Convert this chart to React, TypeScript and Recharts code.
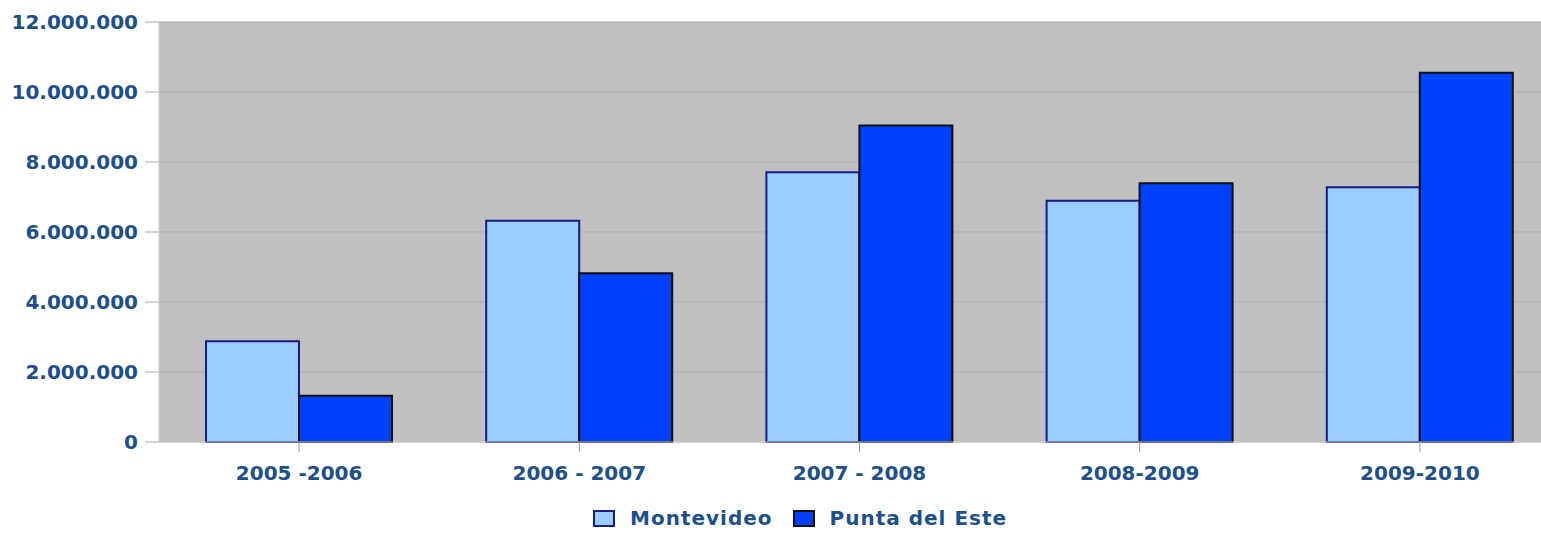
import { Bar, BarChart, CartesianGrid, Legend, XAxis, YAxis } from 'recharts';

const seasons = ['2005 -2006', '2006 - 2007', '2007 - 2008', '2008-2009', '2009-2010'];
const montevideo = [2880000, 6320000, 7710000, 6890000, 7280000];
const puntaDelEste = [1320000, 4820000, 9040000, 7390000, 10550000];
const yTicks = [0, 2000000, 4000000, 6000000, 8000000, 10000000, 12000000];

const TEXT = '#1d4f8c';
const FONT = '"DejaVu Sans", sans-serif';

const data = seasons.map((season, i) => ({
  season,
  montevideo: montevideo[i],
  punta: puntaDelEste[i],
}));

function dotted(n: number) {
  return String(n).replace(/\B(?=(\d{3})+(?!\d))/g, '.');
}

const legendItems = [
  { label: 'Montevideo', fill: '#99ccff', stroke: '#1a1a80' },
  { label: 'Punta del Este', fill: '#0040ff', stroke: '#111111' },
];

function ChartLegend() {
  return (
    <div style={{ display: 'flex', alignItems: 'center', fontFamily: FONT, fontWeight: 'bold', fontSize: 20, letterSpacing: 1, color: TEXT, lineHeight: '22px' }}>
      {legendItems.map((it) => (
        <div key={it.label} style={{ display: 'flex', alignItems: 'center', marginRight: 20 }}>
          <span
            style={{
              display: 'inline-block',
              width: 18,
              height: 13,
              background: it.fill,
              border: `2px solid ${it.stroke}`,
              marginRight: 15,
            }}
          />
          <span>{it.label}</span>
        </div>
      ))}
    </div>
  );
}

export default function App() {
  const tickStyle = { fill: TEXT, fontFamily: FONT, fontWeight: 'bold', fontSize: 20 };
  return (
    <div style={{ position: 'absolute', left: 0, top: 0, width: 1541, height: 533, overflow: 'hidden', background: '#fff' }}>
      <BarChart
        width={1560}
        height={533}
        data={data}
        margin={{ top: 22, right: 0, left: 0, bottom: 0 }}
        barGap={0}
        barSize={93}
      >
        <CartesianGrid vertical={false} stroke="#adadad" fill="#c0c0c0" />
        <XAxis
          dataKey="season"
          height={69}
          tick={tickStyle}
          tickSize={10}
          tickMargin={14}
          axisLine={{ stroke: '#d4d4d4' }}
          tickLine={{ stroke: '#999999' }}
        />
        <YAxis
          width={159}
          domain={[0, 12000000]}
          ticks={yTicks}
          tickFormatter={dotted}
          tick={tickStyle}
          tickSize={14}
          tickMargin={7}
          axisLine={{ stroke: '#cccccc' }}
          tickLine={{ stroke: '#aaaaaa' }}
        />
        <Legend content={<ChartLegend />} wrapperStyle={{ left: 593, top: 507, width: 'auto' }} />
        <Bar dataKey="montevideo" name="Montevideo" fill="#99ccff" stroke="#1a1a80" strokeWidth={2} isAnimationActive={false} />
        <Bar dataKey="punta" name="Punta del Este" fill="#0040ff" stroke="#111111" strokeWidth={2} isAnimationActive={false} />
      </BarChart>
    </div>
  );
}
